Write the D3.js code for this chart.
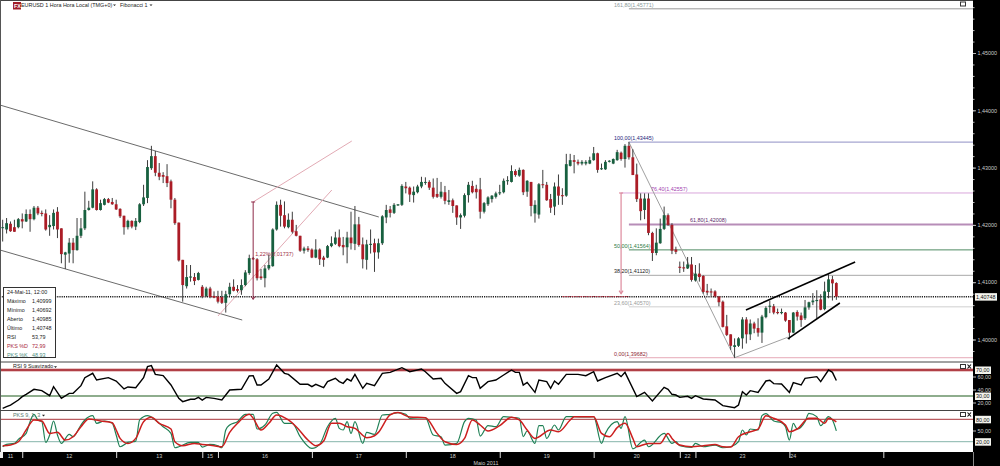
<!DOCTYPE html>
<html lang="pt">
<head>
<meta charset="UTF-8">
<title>EURUSD 1 Hora</title>
<script src="https://d3js.org/d3.v7.min.js"></script>
<style>
  body { margin: 0; background: #fff; overflow: hidden; }
  svg { display: block; }
  text { font-family: "Liberation Sans", Arial, sans-serif; font-size: 5.4px; }
</style>
</head>
<body>
<svg id="chart" width="1000" height="466"></svg>
<script>
// Hourly candles (one entry per bar)
const opens = [
1.4195,1.4192,1.4202,1.4196,1.4196,1.4210,1.4206,1.4219,1.4210,1.4230,
1.4221,1.4220,1.4196,1.4198,1.4223,1.4194,1.4148,1.4150,1.4169,1.4156,
1.4181,1.4194,1.4226,1.4230,1.4262,1.4226,1.4235,1.4245,1.4240,1.4236,
1.4228,1.4216,1.4196,1.4207,1.4197,1.4205,1.4236,1.4247,1.4299,1.4320,
1.4291,1.4287,1.4285,1.4276,1.4244,1.4204,1.4139,1.4093,1.4108,1.4109,
1.4104,1.4092,1.4076,1.4089,1.4076,1.4075,1.4074,1.4064,1.4079,1.4092,
1.4088,1.4086,1.4095,1.4116,1.4142,1.4140,1.4110,1.4107,1.4124,1.4128,
1.4192,1.4235,1.4217,1.4196,1.4209,1.4189,1.4181,1.4155,1.4159,1.4157,
1.4143,1.4157,1.4143,1.4143,1.4163,1.4167,1.4178,1.4165,1.4161,1.4178,
1.4167,1.4201,1.4166,1.4139,1.4165,1.4168,1.4152,1.4168,1.4213,1.4227,
1.4221,1.4234,1.4235,1.4267,1.4265,1.4252,1.4257,1.4267,1.4274,1.4275,
1.4265,1.4254,1.4249,1.4257,1.4240,1.4243,1.4234,1.4213,1.4216,1.4252,
1.4268,1.4263,1.4262,1.4223,1.4236,1.4245,1.4249,1.4255,1.4257,1.4277,
1.4275,1.4294,1.4286,1.4296,1.4258,1.4275,1.4220,1.4218,1.4271,1.4270,
1.4245,1.4232,1.4267,1.4252,1.4251,1.4303,1.4313,1.4310,1.4307,1.4307,
1.4307,1.4313,1.4325,1.4297,1.4297,1.4310,1.4307,1.4313,1.4326,1.4315,
1.4338,1.4318,1.4288,1.4246,1.4226,1.4246,1.4186,1.4151,1.4168,1.4193,
1.4217,1.4200,1.4157,1.4127,1.4126,1.4124,1.4131,1.4103,1.4115,1.4111,
1.4085,1.4084,1.4084,1.4075,1.4066,1.4023,1.4009,1.3987,1.3989,1.4002,
1.4035,1.4009,1.4028,1.4020,1.4012,1.4039,1.4057,1.4058,1.4048,1.4046,
1.4047,1.4034,1.4012,1.4048,1.4042,1.4037,1.4056,1.4065,1.4067,1.4070,
1.4053,1.4083,1.4105,1.40985];
const highs = [
1.4209,1.4212,1.4206,1.4209,1.4212,1.4220,1.4227,1.4227,1.4233,1.4233,
1.4225,1.4227,1.4217,1.4227,1.4231,1.4194,1.4153,1.4177,1.4177,1.4212,
1.4212,1.4258,1.4242,1.4276,1.4264,1.4244,1.4247,1.4247,1.4247,1.4244,
1.4229,1.4216,1.4209,1.4208,1.4212,1.4238,1.4270,1.4313,1.4338,1.4329,
1.4308,1.4292,1.4306,1.4279,1.4247,1.4204,1.4139,1.4130,1.4130,1.4116,
1.4118,1.4095,1.4092,1.4092,1.4084,1.4085,1.4085,1.4085,1.4099,1.4105,
1.4095,1.4105,1.4121,1.4148,1.4144,1.4142,1.4123,1.4130,1.4148,1.4194,
1.4241,1.4244,1.4241,1.4220,1.4223,1.4200,1.4181,1.4162,1.4163,1.4159,
1.4175,1.4159,1.4146,1.4165,1.4180,1.4188,1.4192,1.4179,1.4188,1.4223,
1.4233,1.4214,1.4178,1.4174,1.4192,1.4176,1.4176,1.4217,1.4235,1.4233,
1.4238,1.4236,1.4271,1.4275,1.4267,1.4267,1.4270,1.4284,1.4283,1.4278,
1.4281,1.4282,1.4275,1.4268,1.4261,1.4246,1.4234,1.4220,1.4255,1.4275,
1.4277,1.4270,1.4282,1.4240,1.4250,1.4252,1.4258,1.4270,1.4281,1.4285,
1.4304,1.4297,1.4300,1.4297,1.4278,1.4275,1.4243,1.4273,1.4296,1.4275,
1.4254,1.4274,1.4288,1.4264,1.4324,1.4324,1.4322,1.4314,1.4313,1.4313,
1.4319,1.4336,1.4326,1.4307,1.4313,1.4313,1.4316,1.4331,1.4328,1.4341,
1.4345,1.4332,1.4307,1.4255,1.4255,1.4255,1.4188,1.4194,1.4211,1.4232,
1.4220,1.4203,1.4162,1.4136,1.4136,1.4144,1.4144,1.4130,1.4133,1.4112,
1.4097,1.4089,1.4086,1.4076,1.4068,1.4043,1.4009,1.4002,1.4004,1.4039,
1.4039,1.4035,1.4031,1.4037,1.4043,1.4058,1.4068,1.4062,1.4054,1.4054,
1.4048,1.4034,1.4048,1.4051,1.4047,1.4069,1.4066,1.4081,1.4086,1.4079,
1.4101,1.4114,1.4111,1.40999];
const lows = [
1.4171,1.4185,1.4188,1.4188,1.4194,1.4194,1.4205,1.4188,1.4208,1.4217,
1.4215,1.4190,1.4181,1.4192,1.4177,1.4133,1.4123,1.4134,1.4133,1.4155,
1.4177,1.4191,1.4225,1.4229,1.4225,1.4225,1.4234,1.4238,1.4235,1.4226,
1.4212,1.4183,1.4192,1.4194,1.4191,1.4203,1.4233,1.4238,1.4296,1.4285,
1.4278,1.4273,1.4266,1.4229,1.4200,1.4136,1.4066,1.4089,1.4101,1.4095,
1.4103,1.4072,1.4074,1.4072,1.4072,1.4063,1.4062,1.4047,1.4076,1.4084,
1.4082,1.4078,1.4093,1.4113,1.4139,1.4103,1.4104,1.4091,1.4121,1.4127,
1.4190,1.4197,1.4194,1.4194,1.4185,1.4180,1.4153,1.4150,1.4153,1.4142,
1.4142,1.4130,1.4127,1.4142,1.4161,1.4165,1.4161,1.4147,1.4133,1.4157,
1.4156,1.4162,1.4124,1.4122,1.4150,1.4118,1.4141,1.4165,1.4203,1.4213,
1.4219,1.4233,1.4233,1.4255,1.4240,1.4239,1.4255,1.4264,1.4270,1.4261,
1.4246,1.4247,1.4246,1.4236,1.4235,1.4221,1.4200,1.4193,1.4213,1.4239,
1.4255,1.4246,1.4211,1.4220,1.4233,1.4239,1.4246,1.4252,1.4255,1.4270,
1.4274,1.4284,1.4284,1.4252,1.4249,1.4215,1.4204,1.4211,1.4264,1.4242,
1.4221,1.4217,1.4235,1.4235,1.4249,1.4302,1.4290,1.4304,1.4304,1.4304,
1.4306,1.4312,1.4291,1.4296,1.4296,1.4309,1.4306,1.4312,1.4312,1.4300,
1.4314,1.4287,1.4240,1.4208,1.4210,1.4182,1.4137,1.4147,1.4167,1.4191,
1.4198,1.4149,1.4149,1.4116,1.4118,1.4123,1.4101,1.4101,1.4101,1.4080,
1.4077,1.4076,1.4073,1.4058,1.4021,1.4006,1.3982,1.3968,1.3987,1.3984,
1.3993,1.3999,1.4011,1.4005,1.3994,1.4037,1.4046,1.4044,1.4044,1.4044,
1.4031,1.4000,1.4011,1.4033,1.4022,1.4034,1.4052,1.4060,1.4037,1.4051,
1.4051,1.4072,1.4068,1.40692];
const closes = [
1.4196,1.4203,1.4189,1.4188,1.4210,1.4206,1.4219,1.4210,1.4230,1.4220,
1.4219,1.4192,1.4200,1.4221,1.4192,1.4149,1.4152,1.4169,1.4156,1.4181,
1.4194,1.4226,1.4230,1.4262,1.4226,1.4238,1.4245,1.4239,1.4236,1.4227,
1.4215,1.4196,1.4207,1.4197,1.4207,1.4236,1.4248,1.4301,1.4320,1.4291,
1.4284,1.4284,1.4273,1.4244,1.4203,1.4138,1.4095,1.4109,1.4110,1.4102,
1.4116,1.4075,1.4089,1.4074,1.4073,1.4066,1.4064,1.4079,1.4092,1.4085,
1.4085,1.4095,1.4117,1.4142,1.4140,1.4107,1.4107,1.4124,1.4130,1.4192,
1.4235,1.4216,1.4197,1.4209,1.4188,1.4181,1.4155,1.4159,1.4156,1.4143,
1.4157,1.4140,1.4139,1.4163,1.4168,1.4178,1.4163,1.4161,1.4178,1.4168,
1.4201,1.4165,1.4140,1.4166,1.4167,1.4152,1.4168,1.4215,1.4226,1.4221,
1.4235,1.4236,1.4268,1.4264,1.4253,1.4258,1.4267,1.4275,1.4275,1.4265,
1.4249,1.4249,1.4258,1.4242,1.4243,1.4233,1.4213,1.4217,1.4252,1.4270,
1.4257,1.4257,1.4223,1.4238,1.4248,1.4251,1.4255,1.4257,1.4277,1.4278,
1.4294,1.4287,1.4296,1.4257,1.4277,1.4233,1.4235,1.4271,1.4270,1.4243,
1.4230,1.4267,1.4251,1.4250,1.4306,1.4313,1.4310,1.4307,1.4310,1.4310,
1.4313,1.4325,1.4296,1.4299,1.4310,1.4312,1.4315,1.4327,1.4315,1.4338,
1.4318,1.4287,1.4245,1.4224,1.4246,1.4186,1.4151,1.4169,1.4193,1.4217,
1.4200,1.4155,1.4153,1.4125,1.4124,1.4131,1.4104,1.4115,1.4109,1.4083,
1.4082,1.4082,1.4075,1.4065,1.4022,1.4008,1.3989,1.3990,1.4002,1.4035,
1.4009,1.4028,1.4019,1.4012,1.4040,1.4055,1.4059,1.4047,1.4046,1.4048,
1.4033,1.4012,1.4047,1.4040,1.4034,1.4056,1.4065,1.4068,1.4069,1.4052,
1.4084,1.4105,1.4098,1.40748];

// RSI and stochastic turning points: bar number and value
const rsiBars = [0,1,2,4,5,6,8,10,12,13,15,17,18,20,21,23,24,27,29,31,32,34,36,37,38,39,41,43,45,46,48,49,50,51,52,54,56,58,61,63,64,65,66,68,70,72,73,76,78,79,80,82,83,85,86,87,88,89,90,92,93,95,97,99,102,104,107,108,110,112,113,116,117,119,120,121,122,124,126,128,130,131,132,133,134,136,137,139,140,141,142,144,147,149,151,152,154,157,158,159,162,164,166,169,170,171,172,173,175,176,177,179,182,184,187,188,189,190,191,193,195,196,197,199,201,202,204,205,208,209,211,212,213];
const rsiValues = [11,13.6,16.1,23.8,29,32.6,40.3,38.2,30.5,44.4,26.4,34.1,34.1,45.9,58.2,64.9,54.6,58.2,53.1,40.8,43.9,42.8,58.2,75.1,76.7,63.3,61.3,46.9,26.4,21.3,24.9,24.9,27.9,23.8,27.9,26.4,23.8,39.2,40.3,60.8,61.3,46.9,46.9,56.2,77.7,64.9,63.3,48,48,44.4,48,42.8,52.1,57.2,52.1,49.5,56.2,53.1,63.3,41.8,49.5,45.9,64.9,66.4,73.6,67.4,71.5,67.4,56.2,57.2,49.5,34.1,36.7,61.3,58.2,58.2,41.8,52.1,54.6,62.3,70,66.4,66.4,46.9,51,35.6,54.6,52.1,41.8,53.1,48,63.3,63.3,61.3,67.4,53.1,58.2,64.9,59.8,66.4,29,35.6,22.3,43.3,40.3,32.6,31.5,27.9,29.5,26.4,30.5,25.4,23.8,15.1,12,16.1,36.7,31.5,38.2,35.6,53.1,54.1,49,48.5,35.6,50.5,46.9,57.2,59.8,52.1,70,66.4,53.79];
const kBars = [0,1,3,4,6,7,8,9,10,11,12,13,14,15,17,18,20,21,23,24,26,28,29,30,32,34,35,37,39,41,43,44,45,48,50,51,53,55,56,57,58,60,62,64,65,67,69,70,72,74,76,79,81,83,85,86,87,88,89,90,92,93,95,97,99,101,103,104,108,110,112,113,116,118,119,121,122,124,126,128,130,132,133,134,136,137,138,139,141,142,144,146,149,151,153,154,157,158,159,161,164,165,169,171,172,173,176,177,179,182,184,186,188,189,190,191,193,194,195,197,199,200,201,202,203,205,206,208,209,211,212,213];
const kValues = [6.5,12.8,15.5,26.2,42.3,73.7,93.4,78.2,73.7,18.1,37.9,75.5,37.9,15.5,39.6,33.4,64.7,78.2,89.8,69.2,75.5,69.2,37.9,6.5,18.1,21.7,78.2,89.8,78.2,60.2,42.3,3.8,6.5,18.1,18.1,5.6,12.8,9.2,3.8,51.3,64.7,73.7,93.4,93.4,54,64.7,96.1,98.8,69.2,69.2,33.4,2,12.8,60.2,82.7,55.8,51.3,73.7,42.3,73.7,15.5,45,39.6,91.6,93.4,97.9,93.4,82.7,84.4,37.9,33.4,11,15.5,73.7,82.7,78.2,35.1,63,60.2,87.1,85.3,82.7,33.4,48.6,15.5,63,63,28.9,64.7,51.3,87.1,87.1,86.2,87.1,15.5,42.3,73.7,55.8,87.1,1,24.4,6.5,42.3,15.5,20,9.2,4.7,15.5,6.5,11,3.8,6.5,20,51.3,37.9,54,51.3,89.8,95.2,75.5,71,60.2,24.4,69.2,54,73.7,96.1,87.1,63,87.1,78.2,48.93];
const dBars = [0,2,4,6,8,10,12,14,16,18,20,22,25,28,29,30,32,34,36,38,40,43,44,46,49,51,54,56,58,60,63,64,66,68,70,73,75,78,80,82,84,86,88,90,93,95,96,99,101,104,108,111,113,116,118,120,122,124,127,130,132,134,136,140,142,145,146,151,153,155,157,159,161,162,165,168,170,171,173,176,179,182,184,186,188,191,193,195,197,200,201,203,206,208,210,211,213];
const dValues = [9.2,11,20,51.3,78.2,75.5,42.3,45,24.4,33.4,60.2,80.9,75.5,71,51.3,28.9,15.5,28.9,73.7,85.3,69.2,54,20,9.2,15.5,12.8,9.2,6.5,45,69.2,93.4,82.7,51.3,69.2,91.6,78.2,60.2,24.4,9.2,21.7,69.2,69.2,60.2,55.8,30.7,36,45,91.6,97.9,86.2,84.4,42.3,20,12.8,28.9,78.2,64.7,48.6,63,85.3,78.2,51.3,28.9,51.3,46.8,78.2,87.1,87.1,42.3,33.4,57.6,69.2,28.9,6.5,15.5,15.5,42.3,28.9,11,6.5,9.2,12.8,6.5,5.6,33.4,46.8,54,89.8,82.7,64.7,46.8,54,82.7,82.7,69.2,82.7,72.99];

// Fibonacci levels drawn from the 1,43445 top to the 1,39682 low
const fibLabels = ["161,80(1,45771)","100,00(1,43445)","76,40(1,42557)","61,80(1,42008)","50,00(1,41564)","38,20(1,41120)","23,60(1,40570)","0,00(1,39682)"];
const fibPrices = [1.45771,1.43445,1.42557,1.42008,1.41564,1.41120,1.40570,1.39682];

// Hand drawn trend lines: [bar, price, bar, price]
const channelLines = [[-0.7,1.44092,96.1,1.42138],[-0.7,1.41562,61.2,1.40340]];
const pinkLines = [[64,1.42400,89.2,1.43464],[55,1.40410,84.1,1.42609]];
const wedgeLines = [[189.9,1.40515,217.8,1.41353],[200.6,1.40010,213.9,1.40637]];
const zigzagBars = [160,187,200.6];
const zigzagPrices = [1.43445,1.39682,1.40040];

const priceTicks = [1.40,1.41,1.42,1.43,1.44,1.45];
const priceMinorTicks = d3.range(1.394,1.462,0.002);
const lastPrice = 1.40748;

const dayTicks = [5,29,51,55,79,103,127,151,173,177,201,225];
const dayLabels = ["11","12","13","15","16","17","18","19","20","22","23","24"];
const dayLabelBars = [2,17,40,53,67,91,115,139,162,175,189,202];

const infoLabels = ["Máximo","Mínimo","Aberto","Último","RSI","PKS %D","PKS %K"];
const infoValues = ["1,40999","1,40692","1,40985","1,40748","53,79","72,99","48,93"];

const fibColors = ["#9a9a9a","#8f8fc4","#d9a6dc","#b78db8","#4f8a63","#a8a8a8","#cfcfcf","#e6a8b6"];
const fibTextColors = ["#8a9a9a","#1d1d7a","#a23fb0","#5a2a6a","#2d7a3f","#222","#9a9a9a","#8e1f33"];
const fibWidths = [1,1,1,2,1,1,1,1];

const svg = d3.select("#chart");
const plotRight = 973;

const x = d3.scaleLinear().domain([0,213]).range([2.67,836.35]);
const y = d3.scaleLinear().domain([1.40,1.45]).range([339.5,53]);
const yRsi = d3.scaleLinear().domain([30,70]).range([396,370]);
const yPks = d3.scaleLinear().domain([20,80]).range([441.7,419.3]);

function drawLine(sel, d, color, width) {
  return sel.append("line")
    .attr("x1", x(d[0])).attr("y1", y(d[1]))
    .attr("x2", x(d[2])).attr("y2", y(d[3]))
    .attr("stroke", color).attr("stroke-width", width);
}

// Main pane drawings
const main = svg.append("g");

fibPrices.forEach((p, i) => {
  const startBar = i === 2 ? 158 : 160;
  main.append("line")
    .attr("x1", x(startBar)).attr("x2", plotRight)
    .attr("y1", y(p)).attr("y2", y(p))
    .attr("stroke", fibColors[i]).attr("stroke-width", fibWidths[i]);
});

channelLines.forEach(d => drawLine(main, d, "#6b6b6b", 1));
pinkLines.forEach(d => drawLine(main, d, "#e2aab4", 1));

const zigzag = d3.line().x(d => x(d[0])).y(d => y(d[1]));
main.append("path")
  .attr("d", zigzag(zigzagBars.map((b, i) => [b, zigzagPrices[i]])))
  .attr("fill", "none").attr("stroke", "#a0a0a0").attr("stroke-width", 1);

// Last price line, red where the fib arrow reaches it
main.append("line")
  .attr("x1", 0).attr("x2", plotRight)
  .attr("y1", y(lastPrice)).attr("y2", y(lastPrice))
  .attr("stroke", "#222").attr("stroke-width", 1.5).attr("stroke-dasharray", "1.2,1");
main.append("line")
  .attr("x1", x(143)).attr("x2", x(160))
  .attr("y1", y(lastPrice)).attr("y2", y(lastPrice))
  .attr("stroke", "#b0283c").attr("stroke-width", 1).attr("stroke-dasharray", "2,1");

// Candles
const bars = main.append("g").selectAll("g")
  .data(opens.map((o, i) => ({ i, o, h: highs[i], l: lows[i], c: closes[i] })))
  .join("g");
bars.append("line")
  .attr("x1", d => x(d.i)).attr("x2", d => x(d.i))
  .attr("y1", d => y(d.h)).attr("y2", d => y(d.l))
  .attr("stroke", "#3c3c3c").attr("stroke-width", 1);
bars.append("rect")
  .attr("x", d => x(d.i) - 1.4)
  .attr("width", 2.8)
  .attr("y", d => y(Math.max(d.o, d.c)))
  .attr("height", d => Math.max(1, Math.abs(y(d.o) - y(d.c))))
  .attr("fill", d => d.c >= d.o ? "#17603f" : "#ab1c26");

wedgeLines.forEach(d => drawLine(main, d, "#000", 1.6));

// Measure arrows
function arrow(bar, top, bottom, color, width) {
  const g = main.append("g").attr("stroke", color).attr("fill", "none").attr("stroke-width", width);
  g.append("line").attr("x1", x(bar)).attr("x2", x(bar)).attr("y1", y(top)).attr("y2", y(bottom));
  const yb = y(bottom), yt = y(top), xb = x(bar);
  g.append("path").attr("d", `M${xb - 2},${yb - 3}L${xb},${yb}L${xb + 2},${yb - 3}`);
  g.append("path").attr("d", `M${xb - 2},${yt}L${xb + 2},${yt}`);
}
arrow(64, 1.42400, 1.40700, "#8e2a48", 1);
arrow(158, 1.42557, 1.40800, "#dd8a9c", 1.2);

main.append("text").attr("x", x(64) + 2).attr("y", 255.5)
  .attr("fill", "#a03048").text("1,22%(0,01737)");

// Fib labels
const fibLabelX = [614,614,651,690,614,614,614,614];
fibLabels.forEach((t, i) => {
  main.append("text").attr("x", fibLabelX[i]).attr("y", y(fibPrices[i]) - 2)
    .attr("fill", fibTextColors[i]).text(t);
});

// RSI pane
const rsiPane = svg.append("g");
rsiPane.append("line").attr("x1", 0).attr("x2", plotRight).attr("y1", yRsi(70)).attr("y2", yRsi(70))
  .attr("stroke", "#e3b4b6").attr("stroke-width", 3.6);
rsiPane.append("line").attr("x1", 0).attr("x2", plotRight).attr("y1", yRsi(70)).attr("y2", yRsi(70))
  .attr("stroke", "#a01820").attr("stroke-width", 1.6);
rsiPane.append("line").attr("x1", 0).attr("x2", plotRight).attr("y1", yRsi(30)).attr("y2", yRsi(30))
  .attr("stroke", "#1f5c1c").attr("stroke-width", 1.1);

const rsiLine = d3.line().x(d => x(d[0])).y(d => yRsi(d[1]));
rsiPane.append("path")
  .attr("d", rsiLine(rsiBars.map((b, i) => [b, rsiValues[i]])))
  .attr("fill", "none").attr("stroke", "#000").attr("stroke-width", 1.4);

// Stochastic pane
const pksPane = svg.append("g");
pksPane.append("line").attr("x1", 0).attr("x2", plotRight).attr("y1", yPks(80)).attr("y2", yPks(80))
  .attr("stroke", "#a8343a").attr("stroke-width", 1);
pksPane.append("line").attr("x1", 0).attr("x2", plotRight).attr("y1", yPks(20)).attr("y2", yPks(20))
  .attr("stroke", "#86b4aa").attr("stroke-width", 1);

const pksLine = d3.line().x(d => x(d[0])).y(d => yPks(d[1])).curve(d3.curveMonotoneX);
pksPane.append("path")
  .attr("d", pksLine(kBars.map((b, i) => [b, kValues[i]])))
  .attr("fill", "none").attr("stroke", "#1f8055").attr("stroke-width", 1.2);
pksPane.append("path")
  .attr("d", pksLine(dBars.map((b, i) => [b, dValues[i]])))
  .attr("fill", "none").attr("stroke", "#cc1f1f").attr("stroke-width", 1.5);

// Frame and pane separators
svg.append("rect").attr("x", 0).attr("y", 0).attr("width", plotRight).attr("height", 1).attr("fill", "#444");
svg.append("rect").attr("x", 0).attr("y", 0).attr("width", 1).attr("height", 452).attr("fill", "#555");
[362, 410.5].forEach(v => {
  svg.append("line").attr("x1", 0).attr("x2", plotRight).attr("y1", v).attr("y2", v)
    .attr("stroke", "#444").attr("stroke-width", 1);
});

// Titles
svg.append("rect").attr("x", 13).attr("y", 2).attr("width", 8).attr("height", 7.5).attr("fill", "#a01c28");
svg.append("text").attr("x", 14).attr("y", 8).attr("fill", "#fff")
  .style("font-weight", "bold").text("FX");
svg.append("text").attr("x", 21).attr("y", 7).attr("fill", "#222").text("EURUSD 1 Hora Hora Local (TMG+0)");
svg.append("text").attr("x", 120).attr("y", 7).attr("fill", "#222").text("Fibonacci 1");
svg.append("text").attr("x", 13).attr("y", 368).attr("fill", "#222").text("RSI 9 Suavizado");
svg.append("text").attr("x", 13).attr("y", 416.5).attr("fill", "#5a7a70").text("PKS 9, 1, 3");
[[113, 4.4], [149.5, 4.4], [54, 366.3], [42, 414.8]].forEach(p => {
  svg.append("path").attr("d", `M${p[0]},${p[1]}h3l-1.5,1.6z`).attr("fill", "#222");
});

// Pane window buttons
[[963, 4], [963, 366.5], [963, 414.5]].forEach(p => {
  svg.append("rect").attr("x", p[0] - 2.5).attr("y", p[1] - 2).attr("width", 5).attr("height", 4)
    .attr("fill", "none").attr("stroke", "#333");
});
[366.5, 414.5].forEach(v => {
  svg.append("path").attr("d", `M967.5,${v - 2}l3.5,4m0,-4l-3.5,4`).attr("stroke", "#111").attr("stroke-width", 1.1);
});

// Black axis areas
svg.append("rect").attr("x", plotRight).attr("y", 0).attr("width", 27).attr("height", 466).attr("fill", "#000");
svg.append("rect").attr("x", 0).attr("y", 452).attr("width", 1000).attr("height", 14).attr("fill", "#000");

const decimal = d3.formatLocale({ decimal: ",", thousands: ".", grouping: [3], currency: ["", ""] });

function styleAxis(g) {
  g.select(".domain").remove();
  g.selectAll("line").attr("stroke", "#bbb");
  g.selectAll("text").attr("fill", "#ccc").style("font-family", '"Liberation Sans", Arial, sans-serif').style("font-size", "5.4px");
}

svg.append("g").attr("transform", `translate(${plotRight},0)`)
  .call(d3.axisRight(y).tickValues(priceMinorTicks.filter(v => y(v) > 2 && y(v) < 360)).tickSize(1.5).tickFormat(""))
  .call(styleAxis);
svg.append("g").attr("transform", `translate(${plotRight},0)`)
  .call(d3.axisRight(y).tickValues(priceTicks).tickSize(3).tickPadding(1.5).tickFormat(decimal.format(".5f")))
  .call(styleAxis);
svg.append("g").attr("transform", `translate(${plotRight},0)`)
  .call(d3.axisRight(yRsi).tickValues([20, 40, 60]).tickSize(3).tickPadding(1.5).tickFormat(decimal.format(".2f")))
  .call(styleAxis);
svg.append("g").attr("transform", `translate(${plotRight},0)`)
  .call(d3.axisRight(yPks).tickValues([50]).tickSize(3).tickPadding(1.5).tickFormat(decimal.format(".2f")))
  .call(styleAxis);

// Boxed values on the right axis
function valueBox(py, label, w) {
  svg.append("rect").attr("x", 975).attr("y", py - 3.5).attr("width", w).attr("height", 7.5).attr("fill", "#f4f4ee");
  svg.append("text").attr("x", 976).attr("y", py + 2.3).attr("fill", "#111").text(label);
}
valueBox(y(lastPrice), decimal.format(".5f")(lastPrice), 22);
valueBox(yRsi(70), decimal.format(".2f")(70), 16);
valueBox(yRsi(30), decimal.format(".2f")(30), 16);
valueBox(yPks(80), decimal.format(".2f")(80), 16);
valueBox(yPks(20), decimal.format(".2f")(20), 16);

// Date axis
const dateAxis = svg.append("g").attr("transform", "translate(0,452)");
dateAxis.call(d3.axisBottom(x).tickValues(dayTicks).tickSize(6).tickFormat(""));
dateAxis.select(".domain").remove();
dateAxis.selectAll("line").attr("stroke", "#ddd");
dayLabels.forEach((t, i) => {
  svg.append("text").attr("x", x(dayLabelBars[i])).attr("y", 457.5)
    .attr("text-anchor", "middle").attr("fill", "#ccc").text(t);
});
svg.append("text").attr("x", 486).attr("y", 465).attr("text-anchor", "middle").attr("fill", "#ccc").text("Maio 2011");
svg.append("rect").attr("x", 0).attr("y", 452).attr("width", 3).attr("height", 6).attr("fill", "#eee");
svg.append("line").attr("x1", 973.5).attr("x2", 973.5).attr("y1", 452).attr("y2", 466).attr("stroke", "#888");

// Crosshair info box
const info = svg.append("g");
info.append("rect").attr("x", 3.5).attr("y", 287.5).attr("width", 52).attr("height", 70)
  .attr("fill", "#fff").attr("stroke", "#333");
info.append("text").attr("x", 7).attr("y", 294).attr("fill", "#222").text("24-Mai-11, 12:00");
infoLabels.forEach((t, i) => {
  const color = i === 5 ? "#a8283c" : i === 6 ? "#4f8f7f" : "#222";
  const py = 302.8 + i * 8.95;
  info.append("text").attr("x", 7).attr("y", py).attr("fill", color).text(t);
  info.append("text").attr("x", 32).attr("y", py).attr("fill", color).text(infoValues[i]);
});
</script>
</body>
</html>
